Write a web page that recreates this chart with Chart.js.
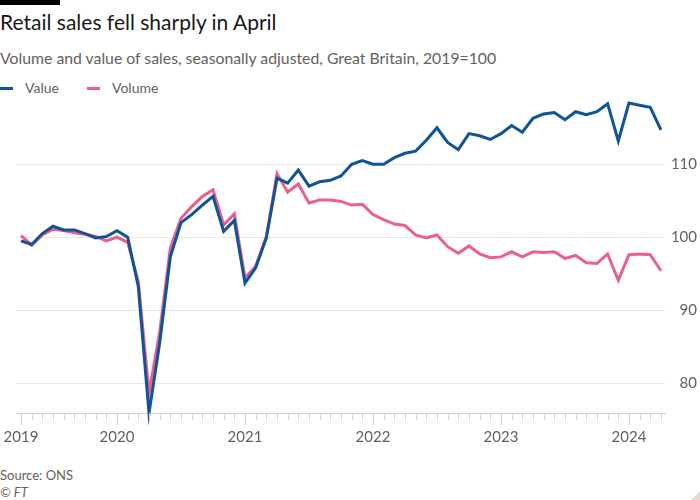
<!DOCTYPE html>
<html><head><meta charset="utf-8">
<script src="https://cdn.jsdelivr.net/npm/chart.js@4"></script>
<style>
html,body{margin:0;padding:0;background:#fff;width:700px;height:500px;overflow:hidden;font-family:Lato,sans-serif;}
#bar{position:absolute;left:0;top:0;width:60px;height:5px;background:#000;}
#title{position:absolute;left:0;top:9px;font-size:21px;line-height:26px;color:#1a1817;white-space:nowrap;}
#sub{position:absolute;left:0;top:48px;font-size:15.8px;line-height:19px;color:#66605c;white-space:nowrap;}
#legend{position:absolute;left:0;top:79px;width:300px;height:18px;font-size:14px;line-height:18px;color:#66605c;}
.sw{position:absolute;top:8px;width:13px;height:3px;}
.lt{position:absolute;top:0;white-space:nowrap;}
#wrap{position:absolute;left:0;top:90px;width:700px;height:370px;}
#src{position:absolute;left:0;top:466px;font-size:13px;line-height:18px;color:#66605c;white-space:nowrap;}
#ft{position:absolute;left:0;top:483px;font-size:13px;line-height:18px;color:#66605c;font-style:italic;white-space:nowrap;}
#corner{position:absolute;right:0;bottom:0;width:0;height:0;border-left:9px solid transparent;border-bottom:9px solid #e6d9ce;}
</style></head>
<body>
<div id="bar"></div>
<div id="title">Retail sales fell sharply in April</div>
<div id="sub">Volume and value of sales, seasonally adjusted, Great Britain, 2019=100</div>
<div id="legend">
  <div class="sw" style="left:0;background:#0f5499"></div><div class="lt" style="left:25px">Value</div>
  <div class="sw" style="left:87px;background:#eb5f8f"></div><div class="lt" style="left:112px">Volume</div>
</div>
<div id="wrap"><canvas id="c" width="700" height="370"></canvas></div>
<div id="src">Source: ONS</div>
<div id="ft">© FT</div>
<div id="corner"></div>
<script>
const months = ["2019-04","2019-05","2019-06","2019-07","2019-08","2019-09","2019-10","2019-11","2019-12",
"2020-01","2020-02","2020-03","2020-04","2020-05","2020-06","2020-07","2020-08","2020-09","2020-10","2020-11","2020-12",
"2021-01","2021-02","2021-03","2021-04","2021-05","2021-06","2021-07","2021-08","2021-09","2021-10","2021-11","2021-12",
"2022-01","2022-02","2022-03","2022-04","2022-05","2022-06","2022-07","2022-08","2022-09","2022-10","2022-11","2022-12",
"2023-01","2023-02","2023-03","2023-04","2023-05","2023-06","2023-07","2023-08","2023-09","2023-10","2023-11","2023-12",
"2024-01","2024-02","2024-03","2024-04"];
const valueSeries = [99.5,99.0,100.5,101.5,101.0,101.0,100.5,99.9,100.1,
100.9,100.0,93.2,75.9,85.5,97.3,102.0,103.1,104.4,105.6,100.8,102.3,
93.7,95.8,99.9,108.1,107.4,109.2,107.0,107.6,107.8,108.4,110.0,110.5,
110.0,110.0,110.9,111.5,111.8,113.3,115.0,113.0,112.0,114.2,113.9,113.4,
114.2,115.3,114.4,116.3,116.9,117.1,116.1,117.2,116.8,117.2,118.3,113.2,
118.4,118.1,117.8,114.7];
const volumeSeries = [100.2,98.9,100.3,101.1,100.9,100.6,100.4,100.1,99.5,
100.0,99.3,93.9,78.6,87.0,98.5,102.6,104.2,105.6,106.5,101.7,103.2,
94.4,96.0,100.1,108.7,106.2,107.3,104.7,105.1,105.1,104.9,104.4,104.5,
103.1,102.4,101.8,101.6,100.3,99.9,100.3,98.7,97.8,98.8,97.7,97.2,
97.3,98.0,97.3,98.0,97.9,98.0,97.1,97.5,96.5,96.4,97.7,94.1,
97.6,97.7,97.6,95.4];
const yTicks = [80, 90, 100, 110];

const axisGrey = '#d9d2cb';
const textGrey = '#66605c';

const tickMarks = {
  id: 'tickMarks',
  afterDraw(chart) {
    const xs = chart.scales.x, ctx = chart.ctx;
    const y0 = chart.chartArea.bottom;
    ctx.save();
    ctx.strokeStyle = axisGrey;
    ctx.lineWidth = 1;
    months.forEach((m, i) => {
      const major = i === 0 || m.endsWith('-01');
      const x = Math.round(xs.getPixelForValue(i)) + 0.5;
      ctx.beginPath();
      ctx.moveTo(x, y0);
      ctx.lineTo(x, y0 + (major ? 12 : 7));
      ctx.stroke();
    });
    ctx.restore();
  }
};

new Chart(document.getElementById('c'), {
  type: 'line',
  data: {
    datasets: [
      { label: 'Value', data: months.map((m, i) => ({x: i, y: valueSeries[i]})),
        borderColor: '#0f5499', borderWidth: 3, pointRadius: 0, tension: 0, clip: false },
      { label: 'Volume', data: months.map((m, i) => ({x: i, y: volumeSeries[i]})),
        borderColor: '#eb5f8f', borderWidth: 3, pointRadius: 0, tension: 0, clip: false }
    ]
  },
  options: {
    responsive: false,
    animation: false,
    events: [],
    layout: { padding: { left: 16, right: 3, top: 8.6, bottom: 0 } },
    plugins: { legend: { display: false }, tooltip: { enabled: false } },
    scales: {
      x: {
        type: 'linear',
        min: -0.47, max: 60.38,
        afterBuildTicks(s) { s.ticks = months.map((m, i) => ({value: i})); },
        afterFit(s) { s.height = 47; s.paddingLeft = 0; s.paddingRight = 0; },
        grid: { display: true, drawOnChartArea: false, drawTicks: false },
        border: { display: true, color: axisGrey, width: 1 },
        ticks: {
          autoSkip: false, maxRotation: 0, padding: 15,
          color: textGrey, font: { family: 'Lato', size: 15 },
          callback(v) {
            const m = months[v];
            if (!m) return '';
            return (v === 0 || m.endsWith('-01')) ? m.slice(0, 4) : '';
          }
        }
      },
      y: {
        position: 'right',
        min: 75.9, max: 119,
        afterBuildTicks(s) { s.ticks = yTicks.map(v => ({value: v})); },
        afterFit(s) { s.width = 32; s.paddingTop = 0; s.paddingBottom = 0; },
        grid: { color: '#ebe6e1', lineWidth: 1, drawTicks: false },
        border: { display: false },
        ticks: { crossAlign: 'far', padding: 8, color: textGrey, font: { family: 'Lato', size: 15 } }
      }
    }
  },
  plugins: [tickMarks]
});
</script>
</body></html>
